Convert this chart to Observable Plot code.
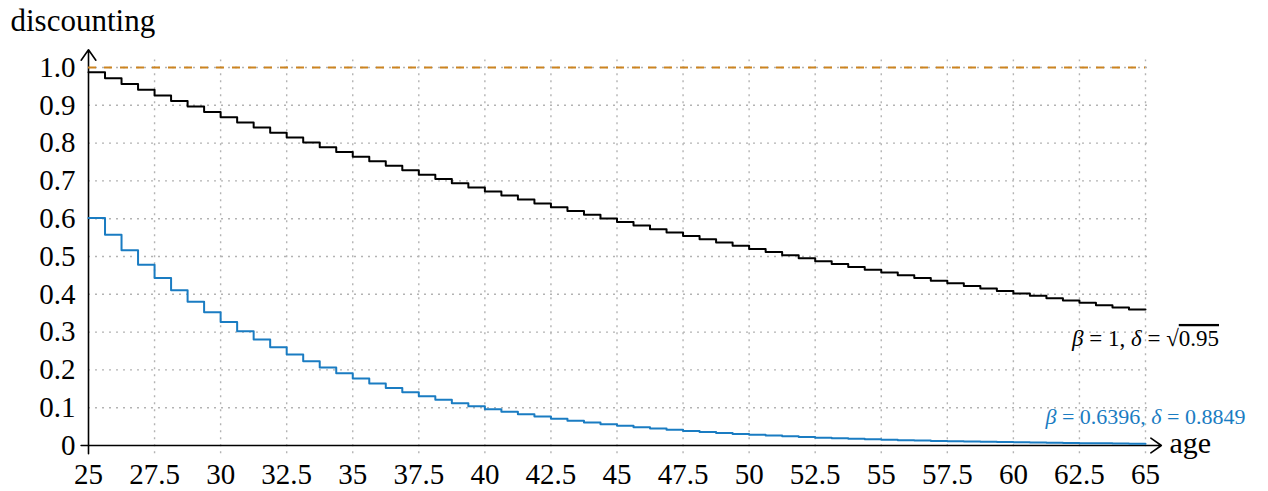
<!DOCTYPE html>
<html>
<head>
<meta charset="utf-8">
<script src="https://cdn.jsdelivr.net/npm/d3@7"></script>
<script src="https://cdn.jsdelivr.net/npm/@observablehq/plot@0.6"></script>
<style>
  html, body { margin: 0; padding: 0; background: #fff; }
  #chart svg { display: block; }
</style>
</head>
<body>
<div id="chart"></div>
<script>
// step start ages (each step 0.625 years), last entry closes the final step
const ages = [25,25.625,26.25,26.875,27.5,28.125,28.75,29.375,30,30.625,31.25,31.875,32.5,33.125,33.75,34.375,
  35,35.625,36.25,36.875,37.5,38.125,38.75,39.375,40,40.625,41.25,41.875,42.5,43.125,43.75,44.375,
  45,45.625,46.25,46.875,47.5,48.125,48.75,49.375,50,50.625,51.25,51.875,52.5,53.125,53.75,54.375,
  55,55.625,56.25,56.875,57.5,58.125,58.75,59.375,60,60.625,61.25,61.875,62.5,63.125,63.75,64.375,65];

// β = 1, δ = √0.95
const blackValues = [0.9873,0.9716,0.9561,0.9409,0.9259,0.9112,0.8967,0.8825,0.8684,0.8546,0.8410,0.8277,0.8145,0.8016,0.7888,0.7763,
  0.7639,0.7518,0.7398,0.7281,0.7165,0.7051,0.6939,0.6828,0.6720,0.6613,0.6508,0.6404,0.6302,0.6202,0.6103,0.6006,
  0.5911,0.5817,0.5724,0.5633,0.5544,0.5455,0.5369,0.5283,0.5200,0.5117,0.5036,0.4955,0.4877,0.4799,0.4723,0.4648,
  0.4574,0.4501,0.4430,0.4359,0.4290,0.4222,0.4155,0.4088,0.4023,0.3959,0.3896,0.3834,0.3774,0.3713,0.3654,0.3596,0.3596];

// β = 0.6396, δ = 0.8849
const blueValues = [0.6017,0.5574,0.5164,0.4784,0.4432,0.4106,0.3804,0.3524,0.3265,0.3024,0.2802,0.2596,0.2405,0.2228,0.2064,0.1912,
  0.1771,0.1641,0.1520,0.1408,0.1305,0.1209,0.1120,0.1037,0.0961,0.0890,0.0825,0.0764,0.0708,0.0656,0.0608,0.0563,
  0.0521,0.0483,0.0447,0.0414,0.0384,0.0356,0.0329,0.0305,0.0283,0.0262,0.0243,0.0225,0.0208,0.0193,0.0179,0.0166,
  0.0153,0.0142,0.0132,0.0122,0.0113,0.0105,0.0097,0.0090,0.0083,0.0077,0.0071,0.0066,0.0061,0.0057,0.0053,0.0049,0.0049];

const referenceLevel = [1];
const xTicks = [25,27.5,30,32.5,35,37.5,40,42.5,45,47.5,50,52.5,55,57.5,60,62.5,65];
const yTicks = [0,0.1,0.2,0.3,0.4,0.5,0.6,0.7,0.8,0.9,1.0];
const labelBlack = "β = 1, δ = √0.95";
const labelBlue = "β = 0.6396, δ = 0.8849";
const xTitle = "age";
const yTitle = "discounting";

const blackData = ages.map((a, i) => ({age: a, v: blackValues[i]}));
const blueData = ages.map((a, i) => ({age: a, v: blueValues[i]}));

const serif = "'Liberation Serif', 'DejaVu Serif', serif";
const gridColor = "#b3b3b3";
const blue = "#1a7cc2";
const orange = "#cc8420";

const chart = Plot.plot({
  width: 1268,
  height: 491,
  marginLeft: 88,
  marginRight: 123,
  marginTop: 67,
  marginBottom: 46,
  style: {fontFamily: serif, fontSize: "29px", background: "#fff", overflow: "visible"},
  x: {domain: [25, 65], label: null},
  y: {domain: [0, 1], label: null},
  marks: [
    // grid
    Plot.ruleX(xTicks.slice(1), {x: d => d, y1: -0.022, y2: 1.02, stroke: gridColor, strokeWidth: 1.4, strokeDasharray: "2,5"}),
    Plot.ruleY(yTicks.slice(1), {y: d => d, x1: 25, x2: 65.22, stroke: gridColor, strokeWidth: 1.4, strokeDasharray: "2,5"}),
    // axes with arrows
    Plot.arrow([0], {x1: 24.72, y1: 0, x2: 65.6, y2: 0, stroke: "black", strokeWidth: 1.6, headLength: 12, headAngle: 70}),
    Plot.arrow([0], {x1: 25, y1: -0.022, x2: 25, y2: 1.047, stroke: "black", strokeWidth: 1.6, headLength: 12, headAngle: 70}),
    Plot.axisX({ticks: xTicks, tickSize: 0, tickPadding: 18, tickFormat: d => String(d), fontSize: 29, fill: "black", label: null}),
    Plot.axisY({ticks: yTicks, tickSize: 0, tickPadding: 13, tickFormat: d => d === 0 ? "0" : d.toFixed(1), fontSize: 29, fill: "black", label: null}),
    // reference level
    Plot.ruleY(referenceLevel, {y: d => d, x1: 25, x2: 65, stroke: orange, strokeWidth: 2, strokeDasharray: "8,8"}),
    // step curves
    Plot.line(blackData, {x: "age", y: "v", curve: "step-after", stroke: "black", strokeWidth: 2}),
    Plot.line(blueData, {x: "age", y: "v", curve: "step-after", stroke: blue, strokeWidth: 2}),
    // curve labels
    Plot.text([labelBlack], {x: 65, y: blackValues[blackValues.length - 1], text: d => d, dy: 29, textAnchor: "middle", lineAnchor: "middle", fontSize: 23, fill: "black", className: "lab-black"}),
    Plot.text([labelBlue], {x: 65, y: blueValues[blueValues.length - 1], text: d => d, dy: -27, textAnchor: "middle", lineAnchor: "middle", fontSize: 22, fill: blue, className: "lab-blue"}),
    // axis titles
    Plot.text([xTitle], {x: 65, y: 0, text: d => d, dx: 24, dy: -2, textAnchor: "start", lineAnchor: "middle", fontSize: 30, fill: "black"}),
    Plot.text([yTitle], {frameAnchor: "top-left", text: d => d, dx: -78, dy: -46, textAnchor: "start", lineAnchor: "middle", fontSize: 31, fill: "black"})
  ]
});

// italicise the Greek symbols and draw the radical's bar
function mathify(sel) {
  sel.each(function () {
    const t = d3.select(this);
    const s = t.text();
    t.text(null);
    const parts = s.split(/(β|δ|√[0-9.]+)/).filter(p => p.length);
    for (const p of parts) {
      if (p === "β" || p === "δ") t.append("tspan").attr("font-style", "italic").text(p);
      else if (p.startsWith("√")) {
        t.append("tspan").text("√");
        t.append("tspan").style("text-decoration", "overline").text(p.slice(1));
      } else t.append("tspan").text(p);
    }
  });
}
mathify(d3.select(chart).selectAll(".lab-black text"));
mathify(d3.select(chart).selectAll(".lab-blue text"));

document.getElementById("chart").appendChild(chart);
</script>
</body>
</html>
